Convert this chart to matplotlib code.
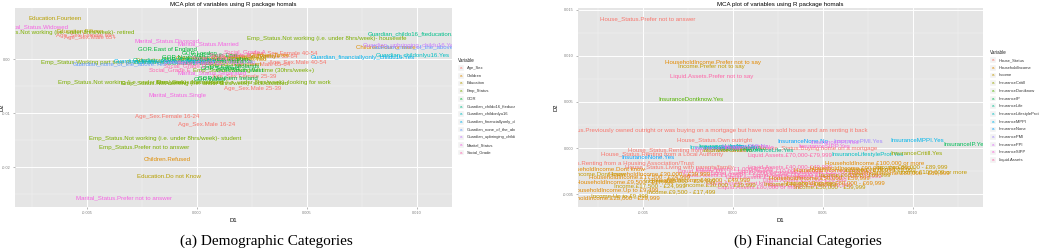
import numpy as np
import matplotlib.pyplot as plt
from matplotlib.patches import Rectangle
from matplotlib.ticker import AutoMinorLocator, FormatStrFormatter

plt.rcParams['font.family'] = ['Liberation Sans', 'DejaVu Sans']

W, H = 1044, 248

def hue_pal(n):  # ggplot2 default colours: hcl(h, c=100, l=65)
    hs = np.linspace(15, 375, n + 1)[:n]
    L, C = 65.0, 100.0
    Y = 100 * ((L + 16) / 116) ** 3
    un, vn = 0.1978398, 0.4683363
    M = np.array([[3.240479, -1.537150, -0.498535],
                  [-0.969256, 1.875992, 0.041556],
                  [0.055648, -0.204043, 1.057311]])
    out = []
    for h in hs:
        u = C * np.cos(np.radians(h))
        v = C * np.sin(np.radians(h))
        up = u / (13 * L) + un
        vp = v / (13 * L) + vn
        X = 9 * Y * up / (4 * vp)
        Z = 3 * Y / vp - X / 3 - 5 * Y
        rgb = M @ (np.array([X, Y, Z]) / 100)
        rgb = np.where(rgb <= 0.0031308, 12.92 * rgb, 1.055 * np.abs(rgb) ** (1 / 2.4) - 0.055)
        out.append(tuple(np.clip(rgb, 0, 1)))
    return out

# ---- (a) demographic categories ----
demo_vars = ['Age_Sex', 'Children', 'Education', 'Emp_Status', 'GOR',
             'Guardian_childo16_fteducation', 'Guardian_childonlyu16',
             'Guardian_financiallyonly_childu16', 'Guardian_none_of_the_above',
             'Guardian_upbringing_childu16', 'Marital_Status', 'Social_Grade']

demo_labels = [
    'Age_Sex.Female 16-24', 'Age_Sex.Male 16-24', 'Age_Sex.Female 25-39', 'Age_Sex.Male 25-39',
    'Age_Sex.Female 40-54', 'Age_Sex.Male 40-54', 'Age_Sex.Female 55-64', 'Age_Sex.Male 55-64',
    'Age_Sex.Female 65+', 'Age_Sex.Male 65+',
    'Children.None', 'Children.One', 'Children.Two', 'Children.Three', 'Children.Four or more',
    'Children.Refused',
    'Education.Fourteen', 'Education.Fifteen', 'Education.Sixteen', 'Education.Seventeen',
    'Education.Eighteen', 'Education.Nineteen', 'Education.Twenty+', 'Education.Do not Know',
    'Emp_Status.Not working (i.e. under 8hrs/week)- retired',
    'Emp_Status.Not working (i.e. under 8hrs/week)- housewife',
    'Emp_Status.Working part time (8-29 hrs/week)',
    'Emp_Status.Working full time (30hrs/week+)',
    'Emp_Status.Not working (i.e. under 8hrs/week)- unemployed',
    'Emp_Status.Not working (i.e. under 8hrs/week)- sick/disabled',
    'Emp_Status.Not working (i.e. under 8hrs/week)- looking for work',
    'Emp_Status.Not working (i.e. under 8hrs/week)- student',
    'Emp_Status.Prefer not to answer',
    'GOR.East of England', 'GOR.London', 'GOR.South East', 'GOR.North West',
    'GOR.Yorkshire and the Humber', 'GOR.West Midlands', 'GOR.East Midlands', 'GOR.Scotland',
    'GOR.South West', 'GOR.Wales', 'GOR.North East', 'GOR.Northern Ireland',
    'Guardian_childo16_fteducation.Yes', 'Guardian_childo16_fteducation.No',
    'Guardian_childonlyu16.Yes', 'Guardian_childonlyu16.No',
    'Guardian_financiallyonly_childu16.Yes', 'Guardian_financiallyonly_childu16.No',
    'Guardian_none_of_the_above.Yes', 'Guardian_none_of_the_above.No',
    'Guardian_upbringing_childu16.Yes', 'Guardian_upbringing_childu16.No',
    'Marital_Status.Widowed', 'Marital_Status.Divorced', 'Marital_Status.Married',
    'Marital_Status.Separated', 'Marital_Status.Single', 'Marital_Status.Prefer not to answer',
    'Social_Grade.A', 'Social_Grade.B', 'Social_Grade.C1', 'Social_Grade.C2',
    'Social_Grade.D', 'Social_Grade.E',
]
demo_d1 = [
    -0.00136, 0.00045, 0.00214, 0.00255, 0.00400, 0.00459, 0.00309, 0.00295, -0.00505, -0.00486,
    -0.00009, 0.00150, 0.00241, 0.00332, 0.00859, -0.00136,
    -0.00645, -0.00532, -0.00168, 0.00082, 0.00195, 0.00173, 0.00264, -0.00127,
    -0.00623, 0.00591, -0.00418, 0.00259, -0.00255, 0.00036, 0.00209, -0.00145, -0.00241,
    -0.00132, 0.00014, 0.00082, -0.00055, 0.00036, 0.00127, 0.00159, 0.00105, 0.00195,
    0.00059, -0.00032, 0.00141,
    0.00995, -0.00077, 0.00982, -0.00123, 0.00755, -0.00145, -0.00350, 0.01005, 0.00968, 0.00059,
    -0.00736, -0.00136, 0.00050, 0.00068, -0.00086, -0.00332,
    0.00218, 0.00150, 0.00082, 0.00014, -0.00055, -0.00123,
]
demo_d2 = [
    -0.01056, -0.01204, -0.00315, -0.00537, 0.00111, -0.00056, 0.00056, -0.00093, 0.00444, 0.00407,
    0.00019, 0.00037, 0.00000, 0.00074, 0.00222, -0.01852,
    0.00759, 0.00519, -0.00019, -0.00037, 0.00019, -0.00093, 0.00056, -0.02167,
    0.00500, 0.00389, -0.00056, -0.00204, -0.00426, -0.00444, -0.00426, -0.01463, -0.01630,
    0.00185, 0.00111, 0.00074, 0.00037, 0.00000, -0.00037, -0.00130, -0.00167, -0.00204,
    -0.00370, -0.00074, -0.00352,
    0.00463, -0.00019, 0.00074, -0.00056, 0.00037, -0.00037, -0.00093, 0.00222, 0.00259, -0.00056,
    0.00593, 0.00333, 0.00278, -0.00259, -0.00667, -0.02574,
    0.00130, 0.00074, 0.00019, -0.00074, -0.00130, -0.00204,
]

# ---- (b) financial categories ----
fin_vars = ['House_Status', 'HouseholdIncome', 'Income', 'InsuranceCritill',
            'InsuranceDontknow', 'InsuranceIP', 'InsuranceLife', 'InsuranceLifestyleProt',
            'InsuranceMPPI', 'InsuranceNone', 'InsurancePMI', 'InsurancePPI',
            'InsuranceSIPP', 'Liquid.Assets']

fin_labels = [
    'House_Status.Prefer not to answer',
    'HouseholdIncome.Prefer not to say', 'Income.Prefer not to say',
    'Liquid.Assets.Prefer not to say', 'InsuranceDontknow.Yes',
    'House_Status.Previously owned outright or was buying on a mortgage but have now sold house and am renting it back',
    'House_Status.Own outright', 'InsuranceNone.No', 'InsurancePMI.Yes', 'InsuranceMPPI.Yes',
    'InsuranceIP.Yes', 'House_Status.Buying home on a mortgage', 'Liquid.Assets.£70,000-£79,999',
    'InsuranceLifestyleProt.Yes', 'InsuranceCritill.Yes',
    'House_Status.Renting from a Local Authority', 'House_Status.Renting from a private landlord',
    'InsuranceNone.Yes', 'House_Status.Renting from a Housing Association/Trust',
    'House_Status.Living with parents/family',
    'InsuranceDontknow.No', 'InsuranceLife.No', 'InsurancePMI.No', 'InsuranceMPPI.No',
    'InsuranceIP.No', 'InsuranceCritill.No', 'InsuranceLifestyleProt.No', 'InsurancePPI.No',
    'InsuranceSIPP.No', 'InsuranceLife.Yes', 'InsurancePPI.Yes', 'InsuranceSIPP.Yes',
    'Liquid.Assets.£0', 'Liquid.Assets.£1-£999', 'Liquid.Assets.£1,000-£2,999',
    'Liquid.Assets.£3,000-£4,999', 'Liquid.Assets.£5,000-£9,999', 'Liquid.Assets.£10,000-£14,999',
    'Liquid.Assets.£15,000-£19,999', 'Liquid.Assets.£20,000-£29,999',
    'Liquid.Assets.£30,000-£39,999', 'Liquid.Assets.£40,000-£49,999',
    'Liquid.Assets.£50,000-£59,999', 'Liquid.Assets.£60,000-£69,999',
    'Liquid.Assets.Dont know', 'Liquid.Assets.£80,000 or more',
    'HouseholdIncome.Dont know', 'HouseholdIncome.Up to £9,499', 'HouseholdIncome.£9,500 - £17,499',
    'HouseholdIncome.£17,500 - £24,999', 'HouseholdIncome.£25,000 - £29,999',
    'HouseholdIncome.£30,000 - £39,999', 'HouseholdIncome.£40,000 - £49,999',
    'HouseholdIncome.£50,000 - £59,999', 'HouseholdIncome.£60,000 - £69,999',
    'HouseholdIncome.£70,000 - £79,999', 'HouseholdIncome.£80,000 - £89,999',
    'HouseholdIncome.£90,000 - £99,999', 'HouseholdIncome.£100,000 or more',
    'Income.Dont know', 'Income.Up to £9,499', 'Income.£9,500 - £17,499',
    'Income.£17,500 - £24,999', 'Income.£25,000 - £29,999', 'Income.£30,000 - £39,999',
    'Income.£40,000 - £49,999', 'Income.£50,000 - £59,999', 'Income.£60,000 - £69,999',
    'Income.£70,000 - £79,999', 'Income.£80,000 - £89,999', 'Income.£100,000 or more',
]
fin_d1 = [
    -0.00472, -0.00111, -0.00117, -0.00117, -0.00233, -0.00150, -0.00100, 0.00389, 0.00694,
    0.01022, 0.01289, 0.00478, 0.00317, 0.00750, 0.01022, -0.00394, -0.00239, -0.00472,
    -0.00639, -0.00294,
    0.00011, -0.00061, 0.00067, -0.00017, 0.00039, -0.00028, -0.00044, -0.00083, 0.00094,
    0.00206, 0.00567, 0.00511,
    -0.00183, -0.00111, 0.00011, 0.00094, 0.00178, 0.00261, 0.00344, 0.00400, 0.00428,
    0.00317, 0.00539, 0.00594, 0.00039, 0.00150,
    -0.00711, -0.00656, -0.00600, -0.00517, -0.00683, -0.00406, -0.00183, 0.00483, 0.00567,
    0.00622, 0.00928, 0.00706, 0.00789,
    -0.00739, -0.00628, -0.00289, -0.00461, -0.00294, -0.00072, 0.00372, 0.00539, 0.00678,
    0.00817, 0.00994, 0.01106,
]
fin_d2 = [
    0.01398, 0.00925, 0.00882, 0.00774, 0.00527, 0.00194, 0.00086, 0.00075, 0.00075,
    0.00086, 0.00043, 0.00000, -0.00086, -0.00075, -0.00054, -0.00065, -0.00022, -0.00108,
    -0.00172, -0.00215,
    0.00000, 0.00022, 0.00022, 0.00011, -0.00011, -0.00022, 0.00011, 0.00000, 0.00011,
    -0.00032, 0.00065, 0.00022,
    -0.00258, -0.00301, -0.00237, -0.00280, -0.00323, -0.00258, -0.00301, -0.00355, -0.00409,
    -0.00215, -0.00269, -0.00312, -0.00387, -0.00430,
    -0.00237, -0.00462, -0.00366, -0.00312, -0.00538, -0.00280, -0.00344, -0.00323, -0.00376,
    -0.00237, -0.00269, -0.00215, -0.00161,
    -0.00290, -0.00527, -0.00473, -0.00409, -0.00355, -0.00398, -0.00387, -0.00419, -0.00290,
    -0.00237, -0.00204, -0.00258,
]

title = 'MCA plot of variables using R package homals'

fig = plt.figure(figsize=(W / 100, H / 100), dpi=100)

def panel(rect, labels, d1, d2, variables, xlim, ylim, xticks, yticks, yfmt, ylab_x):
    cols = dict(zip(variables, hue_pal(len(variables))))
    ax = fig.add_axes(rect)
    ax.set_facecolor('#E5E5E5')
    for s in ax.spines.values():
        s.set_visible(False)
    ax.set_xlim(xlim)
    ax.set_ylim(ylim)
    ax.set_xticks(xticks)
    ax.set_yticks(yticks)
    ax.xaxis.set_minor_locator(AutoMinorLocator(2))
    ax.yaxis.set_minor_locator(AutoMinorLocator(2))
    ax.xaxis.set_major_formatter(FormatStrFormatter('%.3f'))
    ax.yaxis.set_major_formatter(FormatStrFormatter(yfmt))
    ax.grid(which='major', color='white', lw=0.7)
    ax.grid(which='minor', color='#F2F2F2', lw=0.35)
    ax.set_axisbelow(True)
    ax.tick_params(which='major', length=1.5, width=0.4, color='#7F7F7F',
                   labelsize=2.8, labelcolor='#7F7F7F', pad=1.5)
    ax.tick_params(which='minor', length=0)
    for lab, x, y in zip(labels, d1, d2):
        v = next(v for v in variables if lab.startswith(v + '.'))
        ax.text(x, y, lab, color=cols[v], fontsize=4.4, ha='center', va='center', clip_on=True)
    ax.set_title(title, fontsize=4.4, pad=1.5)
    ax.set_xlabel('D1', fontsize=4.2)
    ax.set_ylabel('D2', fontsize=4.2)
    ax.xaxis.set_label_coords(0.5, -0.055)
    ax.yaxis.set_label_coords(ylab_x, 0.5)
    return cols

def legend(x0, x1, ty, variables, cols):
    lax = fig.add_axes([x0 / W, 0, (x1 - x0) / W, 1])
    lax.set_xlim(x0, x1)
    lax.set_ylim(H, 0)
    lax.axis('off')
    kx = x0 + 3
    lax.text(kx, ty, 'Variable', fontsize=3.3, ha='left', va='center', color='#222222', clip_on=True)
    for i, v in enumerate(variables):
        y = ty + 8 + 7.7 * i
        lax.add_patch(Rectangle((kx, y - 2.8), 5.6, 5.6, facecolor='#F2F2F2', edgecolor='white', lw=0.3))
        lax.text(kx + 2.8, y, 'a', fontsize=3.2, color=cols[v], ha='center', va='center')
        lax.text(kx + 9, y, v, fontsize=3.0, color='#333333', ha='left', va='center', clip_on=True)

cols_a = panel([15 / W, 1 - 207 / H, 437 / W, 199 / H], demo_labels, demo_d1, demo_d2, demo_vars,
               (-0.00827, 0.0116), (-0.0274, 0.0095), [-0.005, 0.0, 0.005, 0.010],
               [-0.02, -0.01, 0.0], '%.2f', -0.023)
legend(455, 515, 60, demo_vars, cols_a)

cols_b = panel([578 / W, 1 - 207 / H, 405 / W, 199 / H], fin_labels, fin_d1, fin_d2, fin_vars,
               (-0.0086, 0.0139), (-0.0064, 0.0152), [-0.005, 0.0, 0.005, 0.010],
               [-0.005, 0.0, 0.005, 0.010, 0.015], '%.3f', -0.047)
legend(987, 1044, 52, fin_vars, cols_b)

fig.text(266 / W, 1 - 241 / H, '(a) Demographic Categories', family='Liberation Serif',
         fontsize=11, ha='center', va='center')
fig.text(808 / W, 1 - 241 / H, '(b) Financial Categories', family='Liberation Serif',
         fontsize=11, ha='center', va='center')

fig.savefig('out.png', dpi=100)
